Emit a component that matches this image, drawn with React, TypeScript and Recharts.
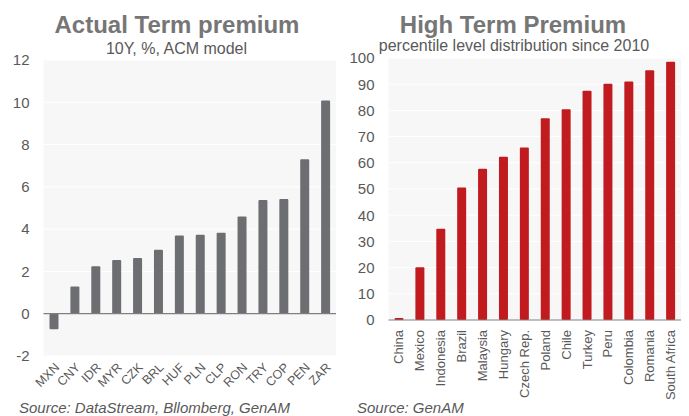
import React from 'react';
import { BarChart, Bar, XAxis, YAxis, CartesianGrid, ReferenceLine } from 'recharts';

const leftCategories = ['MXN', 'CNY', 'IDR', 'MYR', 'CZK', 'BRL', 'HUF', 'PLN', 'CLP', 'RON', 'TRY', 'COP', 'PEN', 'ZAR'];
const leftValues = [-0.73, 1.29, 2.24, 2.54, 2.63, 3.02, 3.7, 3.74, 3.83, 4.6, 5.38, 5.43, 7.3, 10.08];
const leftTicks = [-2, 0, 2, 4, 6, 8, 10, 12];

const rightCategories = ['China', 'Mexico', 'Indonesia', 'Brazil', 'Malaysia', 'Hungary', 'Czech Rep.', 'Poland', 'Chile', 'Turkey', 'Peru', 'Colombia', 'Romania', 'South Africa'];
const rightValues = [0.8, 20.1, 34.8, 50.6, 57.7, 62.3, 65.8, 77, 80.4, 87.5, 90.2, 91, 95.3, 98.6];
const rightTicks = [0, 10, 20, 30, 40, 50, 60, 70, 80, 90, 100];

const leftData = leftCategories.map((c, i) => ({ cat: c, value: leftValues[i] }));
const rightData = rightCategories.map((c, i) => ({ cat: c, value: rightValues[i] }));

const FONT = '"Liberation Sans", Arial, sans-serif';
const TEXT = '#595959';

const LeftTick = (props: any) => {
  const { x, y, payload } = props;
  const ax = x + 3;
  const ay = y + 1;
  return (
    <text x={ax} y={ay} dy="0.35em" textAnchor="end" fontSize={12.5} fill={TEXT} fontFamily={FONT}
      transform={`rotate(-45, ${ax}, ${ay})`}>
      {payload.value}
    </text>
  );
};

const RightTick = (props: any) => {
  const { x, y, payload } = props;
  const ax = x;
  const ay = y + 2;
  return (
    <text x={ax} y={ay} dy="0.35em" textAnchor="end" fontSize={13} fill={TEXT} fontFamily={FONT}
      transform={`rotate(-90, ${ax}, ${ay})`}>
      {payload.value}
    </text>
  );
};

export default function App() {
  return (
    <div style={{ position: 'absolute', left: 0, top: 0, width: 689, height: 416, background: '#fff', fontFamily: FONT }}>
      <div style={{ position: 'absolute', left: 0, top: 0 }}>
        <BarChart width={345} height={416} data={leftData} margin={{ top: 60, right: 9, bottom: 0, left: 0 }}>
          <CartesianGrid vertical={false} stroke="#ffffff" fill="#f7f7f7" />
          <XAxis dataKey="cat" interval={0} axisLine={false} tickLine={false} height={60} tick={<LeftTick />} />
          <YAxis domain={[-2, 12]} ticks={leftTicks} width={43.5} axisLine={false} tickLine={false} tickMargin={8}
            tick={{ fill: TEXT, fontSize: 15, fontFamily: FONT }} interval={0} />
          <ReferenceLine y={0} stroke="#7f7f7f" strokeWidth={1.2} />
          <Bar dataKey="value" fill="#6d6e71" barSize={9} radius={1} isAnimationActive={false} />
        </BarChart>
      </div>
      <div style={{ position: 'absolute', left: 345, top: 0 }}>
        <BarChart width={344} height={416} data={rightData} margin={{ top: 58, right: 8, bottom: 0, left: 0 }}>
          <CartesianGrid vertical={false} stroke="#ffffff" fill="#f7f7f7" />
          <XAxis dataKey="cat" interval={0} axisLine={{ stroke: '#7f7f7f', strokeWidth: 1.2 }} tickLine={false} height={96} tick={<RightTick />} />
          <YAxis domain={[0, 100]} ticks={rightTicks} width={43.5} axisLine={false} tickLine={false} tickMargin={8}
            tick={{ fill: TEXT, fontSize: 15, fontFamily: FONT }} interval={0} />
          <Bar dataKey="value" fill="#c11b1f" barSize={9} radius={1} isAnimationActive={false} />
        </BarChart>
      </div>
      <svg width={689} height={416} style={{ position: 'absolute', left: 0, top: 0, pointerEvents: 'none' }}>
        <text x={177} y={33} textAnchor="middle" fontSize={24} fontWeight="bold" fill="#767676" fontFamily={FONT}>Actual Term premium</text>
        <text x={176.5} y={54} textAnchor="middle" fontSize={16} fill={TEXT} fontFamily={FONT}>10Y, %, ACM model</text>
        <text x={513} y={33} textAnchor="middle" fontSize={24} fontWeight="bold" fill="#767676" fontFamily={FONT}>High Term Premium</text>
        <text x={514} y={50.5} textAnchor="middle" fontSize={16} fill={TEXT} fontFamily={FONT}>percentile level distribution since 2010</text>
        <text x={19} y={413} fontSize={15} fontStyle="italic" fill={TEXT} fontFamily={FONT}>Source: DataStream, Bllomberg, GenAM</text>
        <text x={357} y={413} fontSize={15} fontStyle="italic" fill={TEXT} fontFamily={FONT}>Source: GenAM</text>
      </svg>
    </div>
  );
}
